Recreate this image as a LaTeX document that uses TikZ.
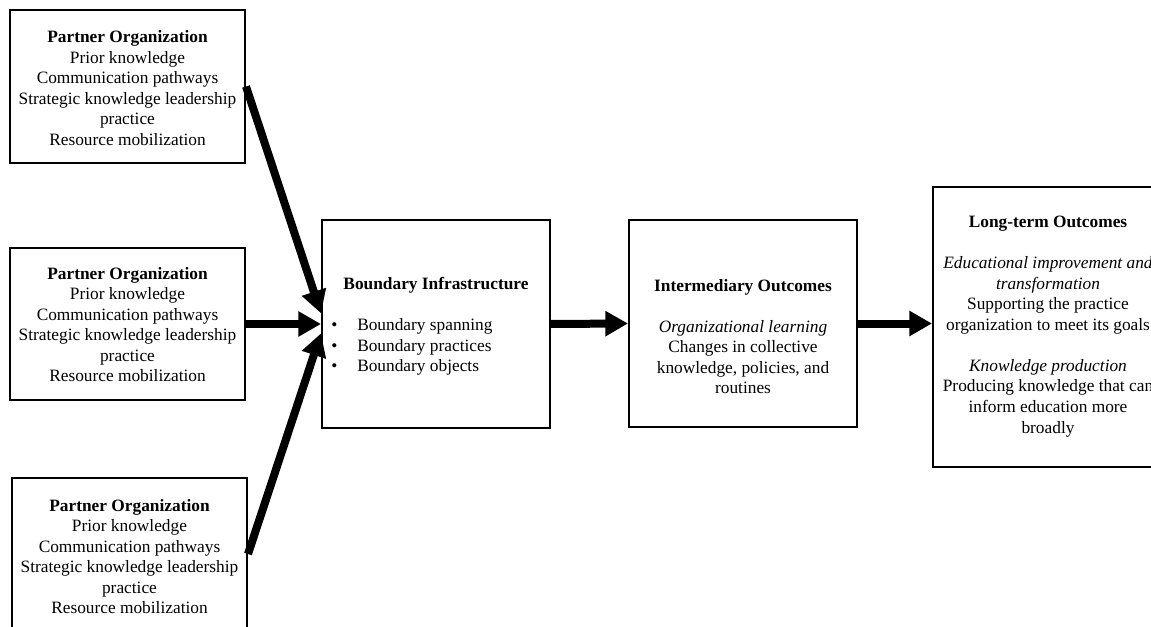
\documentclass[tikz,border=0pt]{standalone}
\usepackage{fontspec}
\setmainfont{Liberation Serif}
\usetikzlibrary{arrows.meta}
\tikzset{
  box/.style={draw, line width=1.5pt, inner sep=0pt},
  txt/.style={align=center, inner sep=0pt, font=\fontsize{13}{15.4}\selectfont},
  flow/.style={line width=6pt, -{Triangle[length=17pt,width=18pt]}},
}
\newcommand{\partnertext}{\textbf{Partner Organization}\\Prior knowledge\\Communication pathways\\Strategic knowledge leadership\\practice\\Resource mobilization}
\newcommand{\bulletitem}[1]{\makebox[19.5pt][l]{\textbullet}#1}
\begin{document}
\begin{tikzpicture}[x=0.75pt, y=-0.75pt]
  \useasboundingbox (0,0) rectangle (1151,627);
  \clip (0,0) rectangle (1151,627);
  % partner organizations
  \node[box, minimum width=176.25pt, minimum height=114.75pt] (po1) at (127.5,86.5) {};
  \node[txt] (po1txt) at (127.5,88) {\partnertext};
  \node[box, minimum width=176.25pt, minimum height=114pt] (po2) at (127.5,324) {};
  \node[txt] (po2txt) at (127.5,324.5) {\partnertext};
  \node[box, minimum width=176.25pt, minimum height=114pt] (po3) at (129.5,554) {};
  \node[txt] (po3txt) at (129.5,556.5) {\partnertext};
  % boundary infrastructure
  \node[box, minimum width=171pt, minimum height=156pt] (bi) at (436,324) {};
  \node[txt] (bititle) at (436,285) {\textbf{Boundary Infrastructure}};
  \node[txt, align=left, anchor=west] (bilist) at (331,347) {\bulletitem{Boundary spanning}\\\bulletitem{Boundary practices}\\\bulletitem{Boundary objects}};
  % intermediary outcomes
  \node[box, minimum width=171pt, minimum height=155.25pt] (im) at (743,323.5) {};
  \node[txt] (imtxt) at (743,336.5) {\textbf{Intermediary Outcomes}\\[15.4pt]\textit{Organizational learning}\\Changes in collective\\knowledge, policies, and\\routines};
  % long-term outcomes
  \node[box, minimum width=172.5pt, minimum height=210pt] (lt) at (1048,327) {};
  \node[txt] (lttxt) at (1048,326.5) {\textbf{Long-term Outcomes}\\[15.4pt]\textit{Educational improvement and}\\\textit{transformation}\\Supporting the practice\\organization to meet its goals\\[15.4pt]\textit{Knowledge production}\\Producing knowledge that can\\inform education more\\broadly};
  % arrows
  \draw[flow] (po1.east) -- ([yshift=8pt]bi.west);
  \draw[flow] (po2.east) -- (bi.west);
  \draw[flow] (po3.east) -- ([yshift=-7pt]bi.west);
  \draw[flow] (bi.east) -- (im.west);
  \draw[flow] (im.east) -- (im.east -| lt.west);
\end{tikzpicture}
\end{document}
